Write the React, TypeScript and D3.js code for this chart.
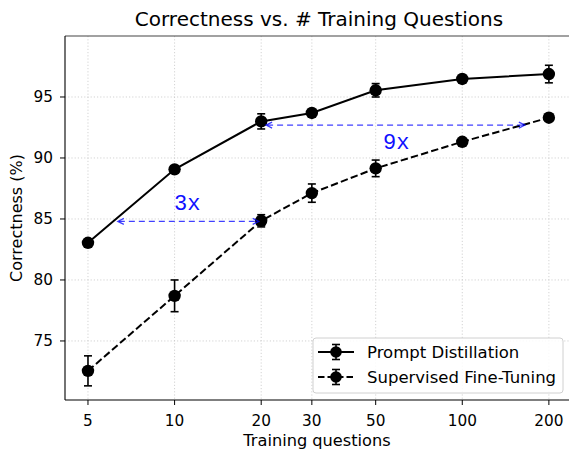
import * as d3 from "d3";

const questions = [5, 10, 20, 30, 50, 100, 200];
const promptMean = [83.05, 89.07, 93.0, 93.69, 95.55, 96.48, 96.88];
const promptErr = [0.1, 0.15, 0.62, 0.2, 0.55, 0.2, 0.72];
const sftMean = [72.55, 78.7, 84.85, 87.12, 89.15, 91.33, 93.3];
const sftErr = [1.23, 1.3, 0.5, 0.75, 0.68, 0.2, 0.15];

const xTicks = [5, 10, 20, 30, 50, 100, 200];
const yTicks = [75, 80, 85, 90, 95];

// blue "Nx" annotations: arrow from x0 to x1 at y, label at (lx, ly)
const arrows = [
  { x0: 6.35, x1: 19.6, y: 84.8, label: "3x", lx: 9.95, ly: 85.74 },
  { x0: 20.8, x1: 165, y: 92.7, label: "9x", lx: 53, ly: 90.74 },
];

const W = 569;
const H = 449;
const margin = { top: 36, left: 65, bottom: 400, right: 575 };
const font = "DejaVu Sans, sans-serif";

export default function App() {
  const x = d3.scaleLog().domain([4.16, 246.5]).range([margin.left, margin.right]);
  const y = d3.scaleLinear().domain([70.16, 100]).range([margin.bottom, margin.top]);

  const line = d3
    .line<number>()
    .x((_, i) => x(questions[i]))
    .y((d) => y(d));

  const series = [
    { name: "Prompt Distillation", mean: promptMean, err: promptErr, dash: undefined },
    { name: "Supervised Fine-Tuning", mean: sftMean, err: sftErr, dash: "7.4,3.2" },
  ];

  const blue = "rgba(0,0,255,0.75)";

  return (
    <svg width={W} height={H} style={{ position: "absolute", left: 0, top: 0 }}>
      <rect width={W} height={H} fill="white" />
      {/* grid */}
      <g stroke="#c8c8c8" strokeWidth={0.8} strokeDasharray="1.2,2">
        {xTicks.map((t) => (
          <line key={"gx" + t} x1={x(t)} x2={x(t)} y1={margin.top} y2={margin.bottom} />
        ))}
        {yTicks.map((t) => (
          <line key={"gy" + t} x1={margin.left} x2={W} y1={y(t)} y2={y(t)} />
        ))}
      </g>

      {/* spines */}
      <g stroke="#000" strokeWidth={1.1} fill="none">
        <line x1={margin.left} x2={W} y1={margin.bottom} y2={margin.bottom} />
        <line x1={margin.left} x2={W} y1={margin.top} y2={margin.top} stroke="#444" />
        <line x1={margin.left} x2={margin.left} y1={margin.top} y2={margin.bottom} />
      </g>

      {/* ticks */}
      <g fontFamily={font} fontSize={15.3} fill="#000">
        {xTicks.map((t) => (
          <g key={"tx" + t}>
            <line x1={x(t)} x2={x(t)} y1={margin.bottom} y2={margin.bottom + 5} stroke="#000" />
            <text x={x(t)} y={margin.bottom + 26} textAnchor="middle">
              {t}
            </text>
          </g>
        ))}
        {yTicks.map((t) => (
          <g key={"ty" + t}>
            <line x1={margin.left - 5} x2={margin.left} y1={y(t)} y2={y(t)} stroke="#000" />
            <text x={margin.left - 12} y={y(t)} dy="0.36em" textAnchor="end">
              {t}
            </text>
          </g>
        ))}
      </g>

      {/* series */}
      {series.map((s) => (
        <g key={s.name}>
          <path d={line(s.mean) ?? undefined} fill="none" stroke="#000" strokeWidth={2} strokeDasharray={s.dash} />
          {s.mean.map((m, i) => {
            const cx = x(questions[i]);
            return (
              <g key={i} stroke="#000" strokeWidth={1.6}>
                <line x1={cx} x2={cx} y1={y(m - s.err[i])} y2={y(m + s.err[i])} />
                <line x1={cx - 4} x2={cx + 4} y1={y(m - s.err[i])} y2={y(m - s.err[i])} />
                <line x1={cx - 4} x2={cx + 4} y1={y(m + s.err[i])} y2={y(m + s.err[i])} />
                <circle cx={cx} cy={y(m)} r={6.2} fill="#000" stroke="none" />
              </g>
            );
          })}
        </g>
      ))}

      {/* annotations */}
      {arrows.map((a) => {
        const x0 = x(a.x0);
        const x1 = x(a.x1);
        const yy = y(a.y);
        return (
          <g key={a.label}>
            <line x1={x0 + 1} x2={x1 - 1} y1={yy} y2={yy} stroke={blue} strokeWidth={1.2} strokeDasharray="6,4" />
            <path
              d={`M${x0 + 6},${yy - 3} L${x0},${yy} L${x0 + 6},${yy + 3}`}
              fill="none"
              stroke={blue}
              strokeWidth={1.3}
            />
            <path
              d={`M${x1 - 6},${yy - 3} L${x1},${yy} L${x1 - 6},${yy + 3}`}
              fill="none"
              stroke={blue}
              strokeWidth={1.3}
            />
            <text x={x(a.lx)} y={y(a.ly)} fontFamily="Liberation Mono, monospace" fontSize={22} fill="#1010ff">
              {a.label}
            </text>
          </g>
        );
      })}

      {/* legend */}
      <g fontFamily={font} fontSize={16.5}>
        <rect x={313} y={338} width={250} height={55} rx={3} fill="rgba(255,255,255,0.85)" stroke="#d0d0d0" />
        {series.map((s, i) => {
          const ly = 352 + i * 25;
          return (
            <g key={s.name}>
              <line x1={318} x2={354} y1={ly} y2={ly} stroke="#000" strokeWidth={2} strokeDasharray={s.dash ? "6.5,3" : undefined} />
              <line x1={336} x2={336} y1={ly - 7.5} y2={ly + 7.5} stroke="#000" strokeWidth={1.6} />
              <line x1={332} x2={340} y1={ly - 7.5} y2={ly - 7.5} stroke="#000" strokeWidth={1.6} />
              <line x1={332} x2={340} y1={ly + 7.5} y2={ly + 7.5} stroke="#000" strokeWidth={1.6} />
              <circle cx={336} cy={ly} r={5.8} fill="#000" />
              <text x={367} y={ly} dy="0.36em" fill="#000">
                {s.name}
              </text>
            </g>
          );
        })}
      </g>

      {/* labels */}
      <text x={319} y={26} textAnchor="middle" fontFamily={font} fontSize={20} fill="#000">
        Correctness vs. # Training Questions
      </text>
      <text x={317} y={446} textAnchor="middle" fontFamily={font} fontSize={16.2} fill="#000">
        Training questions
      </text>
      <text
        transform={`translate(22,${(margin.top + margin.bottom) / 2}) rotate(-90)`}
        textAnchor="middle"
        fontFamily={font}
        fontSize={16}
        fill="#000"
      >
        Correctness (%)
      </text>
    </svg>
  );
}
